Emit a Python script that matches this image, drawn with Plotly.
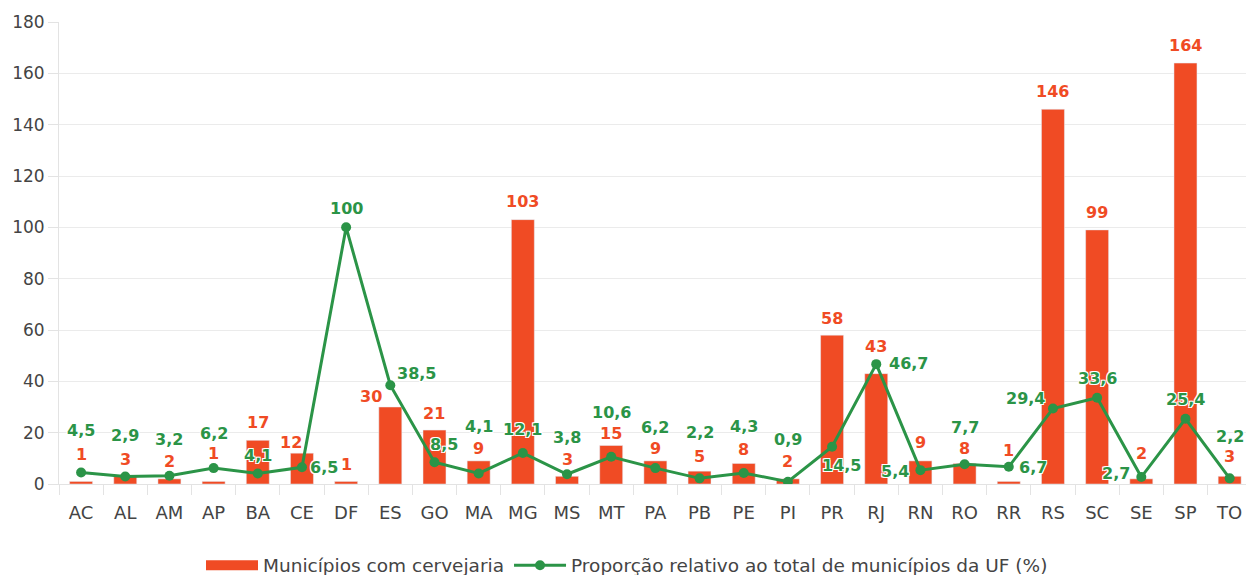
import plotly.graph_objects as go

ufs = ["AC","AL","AM","AP","BA","CE","DF","ES","GO","MA","MG","MS","MT","PA",
       "PB","PE","PI","PR","RJ","RN","RO","RR","RS","SC","SE","SP","TO"]
municipios = [1,3,2,1,17,12,1,30,21,9,103,3,15,9,5,8,2,58,43,9,8,1,146,99,2,164,3]
proporcao = [4.5,2.9,3.2,6.2,4.1,6.5,100,38.5,8.5,4.1,12.1,3.8,10.6,6.2,2.2,4.3,
             0.9,14.5,46.7,5.4,7.7,6.7,29.4,33.6,2.7,25.4,2.2]
y_ticks = [0,20,40,60,80,100,120,140,160,180]

ORANGE = "#F04B24"
GREEN = "#2B9447"
FONT = "DejaVu Sans"
TXT = "#444444"

# label offsets (style only): (xshift, yshift) in px
bar_off = [(0,27),(0,17),(0,17),(0,28),(0,18),(-11,11),(0,17),(-19,11),(0,17),(0,12),
           (0,18),(0,17),(0,12),(0,12),(0,15),(0,14),(0,17),(0,17),(0,27),(0,18),
           (0,15),(0,31),(0,18),(0,17),(0,25),(0,18),(0,20)]
line_off = [(0,42),(0,41),(0,36),(0,35),(0,18),(22,0),(0,19),(26,12),(10,18),(0,47),
            (0,23),(0,37),(0,44),(0,41),(0,46),(0,46),(0,42),(9,-19),(32,1),(-25,-1),
            (0,37),(24,-1),(-27,10),(0,19),(-25,4),(0,19),(0,42)]

def fmt(v):
    return str(int(v)) if v == int(v) else f"{v:.1f}".replace(".", ",")

fig = go.Figure()
fig.add_trace(go.Bar(x=ufs, y=municipios, marker_color=ORANGE, width=0.52,
                     name="Municípios com cervejaria", showlegend=False))
# legend stand-in for the bar series (wide flat swatch)
fig.add_trace(go.Scatter(x=[None], y=[None], mode="lines",
                         line=dict(color=ORANGE, width=10),
                         name="Municípios com cervejaria"))
fig.add_trace(go.Scatter(x=ufs, y=proporcao, mode="lines+markers",
                         line=dict(color=GREEN, width=3),
                         marker=dict(color=GREEN, size=10),
                         name="Proporção relativo ao total de municípios da UF (%)"))

shadow = "1px 1px 0 white, -1px -1px 0 white, 1px -1px 0 white, -1px 1px 0 white"
for i, u in enumerate(ufs):
    fig.add_annotation(x=u, y=municipios[i], text=str(municipios[i]), showarrow=False,
                       xshift=bar_off[i][0], yshift=bar_off[i][1],
                       font=dict(family=FONT, size=16, color=ORANGE, weight="bold"))
for i, u in enumerate(ufs):
    fig.add_annotation(x=u, y=proporcao[i], text=fmt(proporcao[i]), showarrow=False,
                       xshift=line_off[i][0], yshift=line_off[i][1],
                       font=dict(family=FONT, size=16, color=GREEN, weight="bold",
                                 shadow=shadow))

fig.update_layout(
    width=1238, height=575,
    margin=dict(l=51, r=0, t=14, b=99, autoexpand=False),
    paper_bgcolor="white", plot_bgcolor="white",
    font=dict(family=FONT, size=17, color=TXT),
    showlegend=True,
    legend=dict(orientation="h", xref="container", x=0.5, xanchor="center",
                yref="container", y=0.03, yanchor="middle",
                font=dict(size=18.5, color=TXT), itemwidth=52),
    bargap=0.48,
)
fig.update_xaxes(type="category", range=[-0.5, 26.37], showline=True,
                 linecolor="#e3e3e3", linewidth=1, ticks="outside",
                 tickson="boundaries", ticklen=10, tickcolor="#e3e3e3",
                 showgrid=False, tickfont=dict(size=18, color=TXT),
                 ticklabelstandoff=12, automargin=False)
fig.update_yaxes(range=[0, 180], tickvals=y_ticks, showline=True,
                 linecolor="#e3e3e3", gridcolor="#ebebeb", ticks="outside",
                 ticklen=10, tickcolor="#e3e3e3", zeroline=False,
                 tickfont=dict(size=17, color=TXT), automargin=False)

fig.write_html("out.html")
